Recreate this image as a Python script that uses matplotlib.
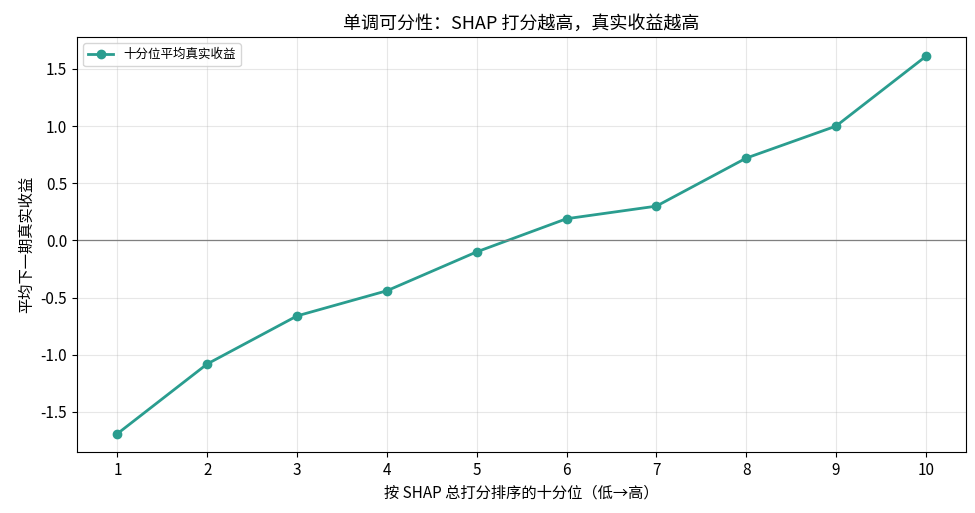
import matplotlib
matplotlib.use("Agg")
import matplotlib.pyplot as plt

plt.rcParams['font.family'] = ['Noto Sans CJK SC', 'DejaVu Sans']
plt.rcParams['axes.unicode_minus'] = False

deciles = [1, 2, 3, 4, 5, 6, 7, 8, 9, 10]
mean_returns = [-1.69, -1.08, -0.66, -0.44, -0.10, 0.19, 0.30, 0.72, 1.00, 1.61]

fig = plt.figure(figsize=(9.75, 5.13), dpi=100)
ax = fig.add_axes([0.079, 0.119, 0.912, 0.809])
ax.plot(deciles, mean_returns, '-o', color='#2a9d8f', lw=2, ms=6, label='十分位平均真实收益')
ax.axhline(0, color='gray', lw=0.9)
ax.set_xticks(deciles)
ax.set_yticks([-1.5, -1.0, -0.5, 0.0, 0.5, 1.0, 1.5])
ax.set_ylim(-1.85, 1.78)
ax.set_xlim(0.55, 10.45)
ax.grid(True, alpha=0.3)
ax.set_title('单调可分性：SHAP 打分越高，真实收益越高', fontsize=13)
ax.set_xlabel('按 SHAP 总打分排序的十分位（低→高）', fontsize=11)
ax.set_ylabel('平均下一期真实收益', fontsize=11)
ax.tick_params(labelsize=11)
ax.legend(loc='upper left', fontsize=9)
fig.savefig('out.png')
